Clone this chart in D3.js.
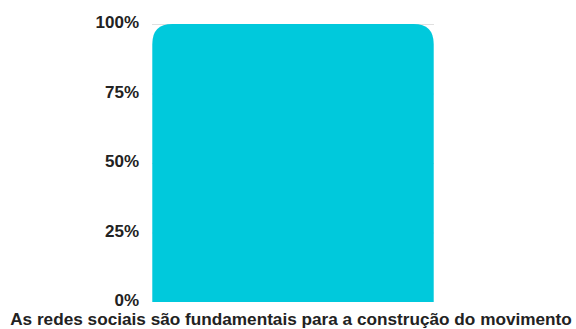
<!DOCTYPE html>
<html><head><meta charset="utf-8">
<script src="https://cdn.jsdelivr.net/npm/d3@7"></script>
<style>html,body{margin:0;padding:0;background:#fff;}svg{display:block;}</style>
</head><body>
<svg id="chart" width="576" height="329"></svg>
<script>
const categories = ["As redes sociais são fundamentais para a construção do movimento"];
const values = [1.0];
const tickValues = [0, 0.25, 0.5, 0.75, 1.0];
const tickLabels = ["0%", "25%", "50%", "75%", "100%"];

const svg = d3.select("#chart");
const x = d3.scaleBand().domain(categories).range([143, 443]).paddingInner(0).paddingOuter(0.033);
const y = d3.scaleLinear().domain([0, 1]).range([302, 24]);

// gridlines
svg.append("g").selectAll("line").data(tickValues.filter(d => d > 0)).join("line")
  .attr("x1", 152).attr("x2", 434)
  .attr("y1", d => y(d) + 0.5).attr("y2", d => y(d) + 0.5)
  .attr("stroke", "#e0e0e0").attr("stroke-width", 1);

// y axis labels
const yAxis = d3.axisLeft(y).tickValues(tickValues).tickFormat((d, i) => tickLabels[i]).tickSize(0).tickPadding(0);
const ga = svg.append("g").attr("transform", "translate(139,-1.5)").call(yAxis);
ga.select(".domain").remove();
ga.selectAll("text").attr("font-family", "Liberation Sans, Arial, sans-serif")
  .attr("font-weight", "bold").attr("font-size", 17).attr("fill", "#222");

// bars with rounded top corners
const r = 20;
svg.append("g").selectAll("path").data(categories).join("path")
  .attr("fill", "#00c9dc")
  .attr("d", (c, i) => {
    const x0 = x(c), x1 = x(c) + x.bandwidth(), yt = y(values[i]), yb = y(0);
    return `M${x0},${yb} L${x0},${yt + r} Q${x0},${yt} ${x0 + r},${yt} L${x1 - r},${yt} Q${x1},${yt} ${x1},${yt + r} L${x1},${yb} Z`;
  });

// x axis label
const xAxis = d3.axisBottom(x).tickSize(0).tickPadding(0);
const gx = svg.append("g").attr("transform", "translate(-2,313)").call(xAxis);
gx.select(".domain").remove();
gx.selectAll("text").attr("font-family", "Liberation Sans, Arial, sans-serif")
  .attr("font-weight", "bold").attr("font-size", 17.2).attr("fill", "#222");
</script>
</body></html>
